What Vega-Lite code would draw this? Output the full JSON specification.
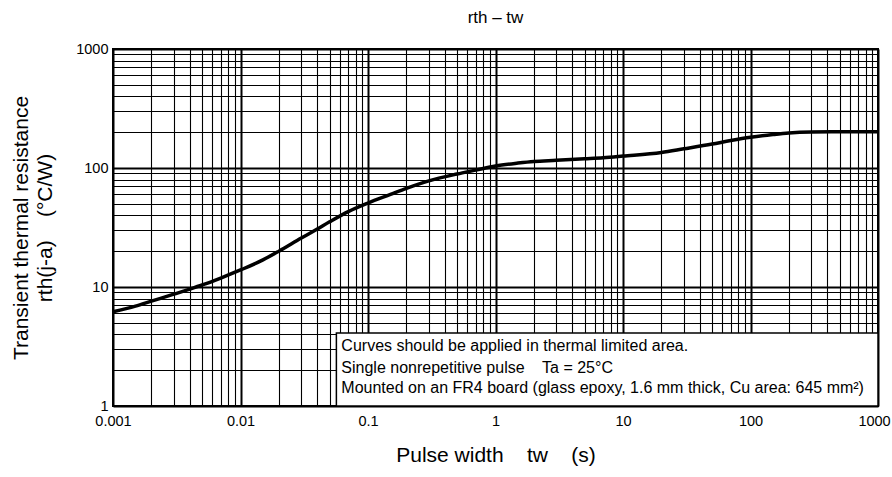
{
  "$schema": "https://vega.github.io/schema/vega-lite/v6.json",
  "autosize": {"type": "none"},
  "width": 765,
  "height": 357,
  "padding": {"left": 113, "top": 49, "right": 14, "bottom": 71},
  "background": "white",
  "config": {
    "font": "Liberation Sans",
    "view": {"stroke": "black", "strokeWidth": 2}
  },
  "title": {
    "text": "rth – tw",
    "fontSize": 17,
    "fontWeight": "normal",
    "color": "black",
    "font": "Liberation Sans",
    "offset": 14
  },
  "datasets": {
    "curve": [
      {"x": 0.001, "y": 6.2}, {"x": 0.0015, "y": 6.9}, {"x": 0.002, "y": 7.6},
      {"x": 0.003, "y": 8.7}, {"x": 0.004, "y": 9.6}, {"x": 0.005, "y": 10.4},
      {"x": 0.007, "y": 11.9}, {"x": 0.01, "y": 13.9}, {"x": 0.015, "y": 16.9},
      {"x": 0.02, "y": 20.0}, {"x": 0.03, "y": 25.8}, {"x": 0.04, "y": 30.7},
      {"x": 0.05, "y": 35.3}, {"x": 0.07, "y": 43.0}, {"x": 0.1, "y": 50.8},
      {"x": 0.15, "y": 60.0}, {"x": 0.2, "y": 67.5}, {"x": 0.3, "y": 78.0},
      {"x": 0.5, "y": 89.0}, {"x": 0.7, "y": 96.0}, {"x": 1, "y": 104.0},
      {"x": 1.5, "y": 110.0}, {"x": 2, "y": 113.5}, {"x": 3, "y": 116.0},
      {"x": 5, "y": 119.5}, {"x": 7, "y": 122.0}, {"x": 10, "y": 126.0},
      {"x": 20, "y": 135.0}, {"x": 30, "y": 145.0}, {"x": 50, "y": 159.0},
      {"x": 70, "y": 170.0}, {"x": 100, "y": 181.0}, {"x": 150, "y": 191.0},
      {"x": 200, "y": 197.0}, {"x": 300, "y": 201.0}, {"x": 500, "y": 202.0},
      {"x": 1000, "y": 202.0}
    ],
    "box": [{"x": 0.0565, "x2": 1000, "y": 4.1, "y2": 1}],
    "notes": [
      {"x": 0.0618, "y": 3.19, "t": "Curves should be applied in thermal limited area."},
      {"x": 0.0618, "y": 2.085, "t": "Single nonrepetitive pulse\u00a0\u00a0\u00a0 Ta = 25°C"},
      {"x": 0.0618, "y": 1.42, "t": "Mounted on an FR4 board (glass epoxy, 1.6 mm thick, Cu area: 645 mm²)"}
    ]
  },
  "encoding": {
    "x": {
      "field": "x",
      "type": "quantitative",
      "scale": {"type": "log", "domain": [0.001, 1000], "nice": false},
      "axis": {
        "title": "Pulse width\u00a0\u00a0\u00a0 tw\u00a0\u00a0\u00a0 (s)",
        "values": [0.001,0.002,0.003,0.004,0.005,0.006,0.007,0.008,0.009,0.01,0.02,0.03,0.04,0.05,0.06,0.07,0.08,0.09,0.1,0.2,0.3,0.4,0.5,0.6,0.7,0.8,0.9,1,2,3,4,5,6,7,8,9,10,20,30,40,50,60,70,80,90,100,200,300,400,500,600,700,800,900,1000],
        "labelExpr": "abs(log(datum.value)/LN10 - round(log(datum.value)/LN10)) < 0.001 ? format(datum.value, '~g') : ''",
        "labelOverlap": false,
        "labelFlush": false,
        "labelOffset": {"condition": {"test": "datum.value >= 999", "value": -4}, "value": 0},
        "ticks": false,
        "domain": false,
        "grid": true,
        "gridColor": "black",
        "gridOpacity": 1,
        "gridWidth": {"condition": {"test": "abs(log(datum.value)/LN10 - round(log(datum.value)/LN10)) < 0.001", "value": 2}, "value": 1.1},
        "labelFontSize": 14.5,
        "labelColor": "black",
        "labelPadding": 8,
        "titleFontSize": 21,
        "titleFontWeight": "normal",
        "titleColor": "black",
        "titlePadding": 17
      }
    },
    "y": {
      "field": "y",
      "type": "quantitative",
      "scale": {"type": "log", "domain": [1, 1000], "nice": false},
      "axis": {
        "title": ["Transient thermal resistance", "rth(j-a)\u00a0\u00a0\u00a0 (°C/W)"],
        "values": [1,2,3,4,5,6,7,8,9,10,20,30,40,50,60,70,80,90,100,200,300,400,500,600,700,800,900,1000],
        "labelExpr": "abs(log(datum.value)/LN10 - round(log(datum.value)/LN10)) < 0.001 ? format(datum.value, '~g') : ''",
        "labelOverlap": false,
        "labelFlush": false,
        "ticks": false,
        "domain": false,
        "grid": true,
        "gridColor": "black",
        "gridOpacity": 1,
        "gridWidth": {"condition": {"test": "abs(log(datum.value)/LN10 - round(log(datum.value)/LN10)) < 0.001", "value": 2}, "value": 1.1},
        "labelFontSize": 14.5,
        "labelColor": "black",
        "labelPadding": 5,
        "titleFontSize": 21,
        "titleFontWeight": "normal",
        "titleColor": "black",
        "titleLineHeight": 24,
        "titlePadding": 20
      }
    }
  },
  "layer": [
    {
      "data": {"name": "box"},
      "mark": {"type": "rect", "fill": "white", "stroke": "black", "strokeWidth": 1.5},
      "encoding": {"x2": {"field": "x2"}, "y2": {"field": "y2"}}
    },
    {
      "data": {"name": "curve"},
      "mark": {"type": "line", "color": "black", "strokeWidth": 3.5, "interpolate": "monotone"}
    },
    {
      "data": {"name": "notes"},
      "mark": {"type": "text", "align": "left", "baseline": "middle", "fontSize": 16, "color": "black", "font": "Liberation Sans"},
      "encoding": {"text": {"field": "t"}}
    }
  ]
}
